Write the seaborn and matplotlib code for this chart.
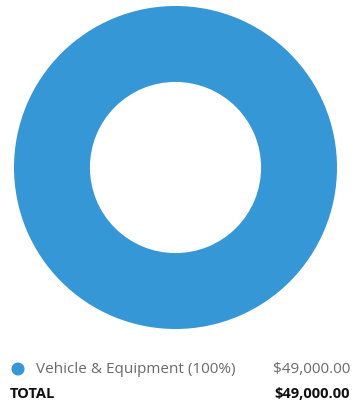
import matplotlib
matplotlib.use("Agg")
import matplotlib.pyplot as plt
import seaborn as sns

sns.set_theme(style="white")
plt.rcParams["font.family"] = ["Open Sans", "DejaVu Sans"]

categories = ["Vehicle & Equipment"]
amounts = [49000.00]
colors = ["#3597d5"]

total = sum(amounts)

fig = plt.figure(figsize=(3.54, 4.02), dpi=100)
fig.patch.set_facecolor("white")

ax = fig.add_axes([14 / 354, 72 / 402, 323 / 354, 323 / 402])
ax.pie(amounts, colors=colors, startangle=90, counterclock=False,
       radius=1.0, wedgeprops=dict(width=0.47, edgecolor="none"))
ax.set_xlim(-1, 1)
ax.set_ylim(-1, 1)
ax.set_aspect("equal")
ax.axis("off")

# legend rows beneath the donut
row_y = 1 - 370 / 402
for i, (cat, amt) in enumerate(zip(categories, amounts)):
    pct = amt / total * 100
    fig.patches.append(matplotlib.patches.Ellipse(
        (18 / 354, row_y), 13 / 354, 13 / 402, transform=fig.transFigure,
        facecolor=colors[i], edgecolor="none"))
    fig.text(36 / 354, row_y, f"{cat} ({pct:.0f}%)", ha="left", va="center",
             fontsize=11, color="#6a6a6a")
    fig.text(350 / 354, row_y, f"${amt:,.2f}", ha="right", va="center",
             fontsize=11, color="#6a6a6a")

tot_y = 1 - 394 / 402
fig.text(10 / 354, tot_y, "TOTAL", ha="left", va="center",
         fontsize=10.5, fontweight="bold", color="#111111")
fig.text(350 / 354, tot_y, f"${total:,.2f}", ha="right", va="center",
         fontsize=10.5, fontweight="bold", color="#111111")

fig.savefig("out.png", dpi=100, facecolor="white")
